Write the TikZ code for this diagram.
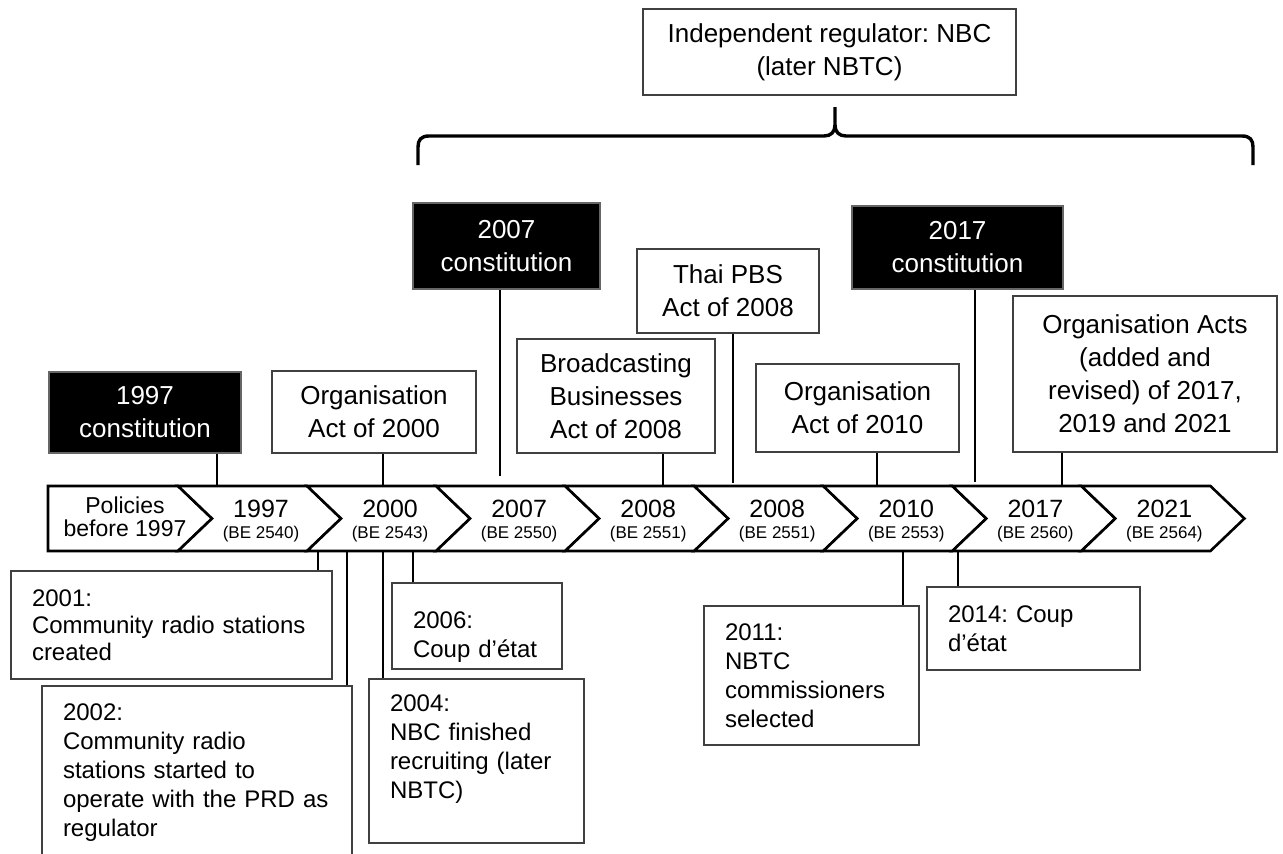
\documentclass[tikz,border=0pt]{standalone}
\usepackage{fontspec}
\setmainfont{Liberation Sans}
\usetikzlibrary{calc}
\frenchspacing
\begin{document}
\begin{tikzpicture}[x=1pt,y=-1pt,
  topbox/.style={draw=black!75, line width=1.2pt, fill=white, inner sep=0pt,
    align=center, font=\fontsize{26}{33}\selectfont},
  constbox/.style={topbox, fill=black, draw=black!60, text=white},
  evbox/.style={draw=black!75, line width=1.2pt, fill=white, inner xsep=21pt,
    inner ysep=0pt, align=left, font=\fontsize{24}{29}\selectfont},
  conn/.style={line width=2.4pt, black},
  chev/.style={draw=black, line width=2.6pt, line join=miter, fill=white},
  yearlbl/.style={align=center, inner sep=0pt, font=\fontsize{25}{21}\selectfont},
  bracket/.style={line width=3.4pt, line cap=butt},
]
\useasboundingbox (0,0) rectangle (1283,854);
\clip (0,0) rectangle (1283,854);

% ---------- timeline strip ----------
\draw[chev] (48,486) -- (178,486) -- (212,518.5) -- (178,551) -- (48,551) -- cycle;
\foreach \i in {1,...,8}{
  \pgfmathsetmacro\ta{178+129.05*(\i-1)}
  \pgfmathsetmacro\tb{178+129.05*\i}
  \draw[chev] (\ta,486) -- (\tb,486) -- (\tb+34,518.5) -- (\tb,551)
     -- (\ta,551) -- (\ta+34,518.5) -- cycle;
}
\node[align=center, inner sep=0pt, font=\fontsize{23}{23}\selectfont] (ch0)
  at (125,517) {Policies\\before 1997};
\foreach \i/\yr/\be in {1/1997/2540, 2/2000/2543, 3/2007/2550, 4/2008/2551,
                        5/2008/2551, 6/2010/2553, 7/2017/2560, 8/2021/2564}{
  \node[yearlbl] (ch\i) at ({178+129.05*\i-46},521.4)
    {\yr\\{\fontsize{17}{21}\selectfont(BE \be)}};
}

% ---------- boxes above the strip ----------
\node[topbox, minimum width=373, minimum height=86] (reg) at (829.5,52)
  {Independent regulator: NBC\\(later NBTC)};
\node[constbox, minimum width=192, minimum height=81] (c97) at (145,412.5)
  {1997\\constitution};
\node[topbox, minimum width=204, minimum height=82] (o00) at (374,412)
  {Organisation\\Act of 2000};
\node[constbox, minimum width=187, minimum height=86] (c07) at (506.5,246)
  {2007\\constitution};
\node[topbox, minimum width=198, minimum height=114] (bb08) at (616,396)
  {Broadcasting\\Businesses\\Act of 2008};
\node[topbox, minimum width=182, minimum height=84] (tp08) at (728,291)
  {Thai PBS\\Act of 2008};
\node[topbox, minimum width=203, minimum height=88] (o10) at (857.5,408)
  {Organisation\\Act of 2010};
\node[constbox, minimum width=211, minimum height=83] (c17) at (957.5,247.5)
  {2017\\constitution};
\node[topbox, minimum width=264, minimum height=156] (oac) at (1145,374)
  {Organisation Acts\\(added and\\revised) of 2017,\\2019 and 2021};

% ---------- boxes below the strip ----------
\node[evbox, text width=279, minimum height=108,
      font=\fontsize{24}{27}\selectfont] (e01) at (171.5,625)
  {2001:\\Community radio stations\\created};
\node[evbox, text width=268, minimum height=173] (e02) at (197,772.5)
  {2002:\\Community radio\\stations started to\\operate with the PRD as\\regulator};
\node[evbox, text width=173, minimum height=164] (e04) at (476.5,761)
  {2004:\\NBC finished\\recruiting (later\\NBTC)\\\mbox{}};
\node[evbox, text width=128, minimum height=86] (e06) at (477,626)
  {\rule{0pt}{39pt}2006:\\Coup d’état};
\node[evbox, text width=173, minimum height=139] (e11) at (811.5,675.5)
  {2011:\\NBTC\\commissioners\\selected};
\node[evbox, text width=171, minimum height=83] (e14) at (1033.5,628.5)
  {2014: Coup\\d’état};

% ---------- bracket spanning the regulator period ----------
\draw[bracket] (418,165) -- (418,147) .. controls (418,140) and (421,136) .. (429,136)
  -- (824,136) .. controls (831,136) and (835,132) .. (835,125) -- (835,107);
\draw[bracket] (835,125) .. controls (835,132) and (839,136) .. (846,136)
  -- (1242,136) .. controls (1250,136) and (1253,140) .. (1253,147) -- (1253,165);

% ---------- connectors to the strip ----------
\coordinate (s97) at (217,486);
\coordinate (s00) at (383,486);
\coordinate (s07) at (500,476);
\coordinate (sbb) at (663,486);
\coordinate (stp) at (733,483);
\coordinate (s10) at (877,486);
\coordinate (s17) at (975,482);
\coordinate (sac) at (1062,486);
\draw[conn] (c97.south -| s97) -- (s97);
\draw[conn] (o00.south -| s00) -- (s00);
\draw[conn] (c07.south -| s07) -- (s07);
\draw[conn] (bb08.south -| sbb) -- (sbb);
\draw[conn] (tp08.south -| stp) -- (stp);
\draw[conn] (o10.south -| s10) -- (s10);
\draw[conn] (c17.south -| s17) -- (s17);
\draw[conn] (oac.south -| sac) -- (sac);

\coordinate (b01) at (318,551);
\coordinate (b02) at (347,551);
\coordinate (b04) at (383,551);
\coordinate (b06) at (413,551);
\coordinate (b11) at (903,551);
\coordinate (b14) at (958,551);
\draw[conn] (b01) -- (b01 |- e01.north);
\draw[conn] (b02) -- (b02 |- e02.north);
\draw[conn] (b04) -- (b04 |- e04.north);
\draw[conn] (b06) -- (b06 |- e06.north);
\draw[conn] (b11) -- (b11 |- e11.north);
\draw[conn] (b14) -- (b14 |- e14.north);
\end{tikzpicture}
\end{document}
